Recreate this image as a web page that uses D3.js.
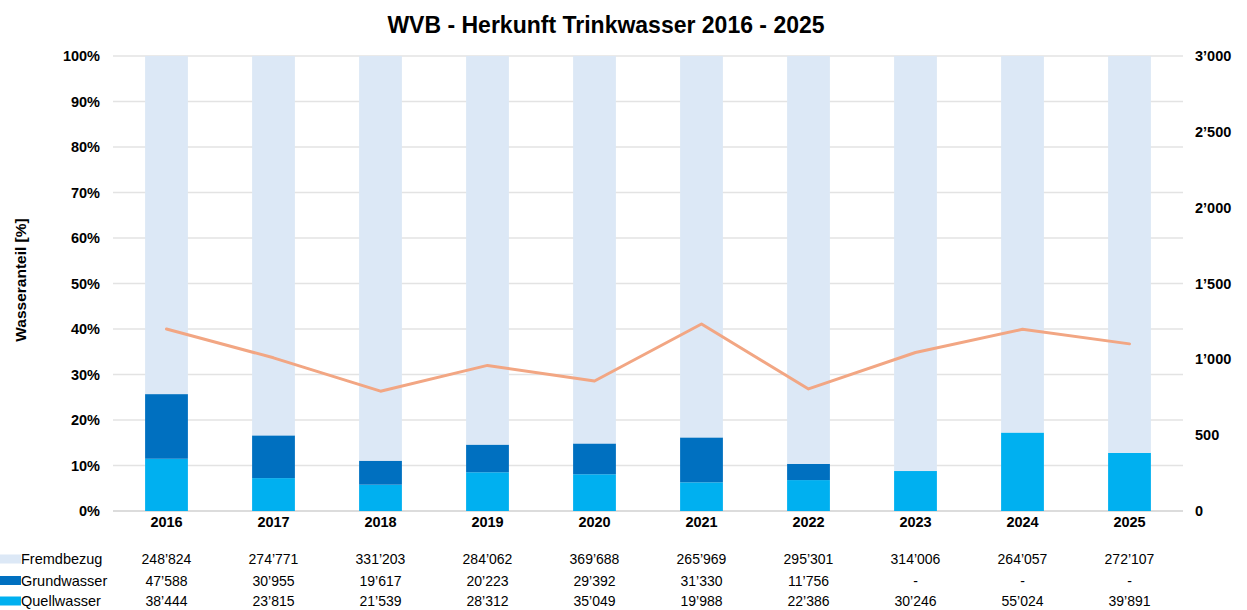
<!DOCTYPE html>
<html>
<head>
<meta charset="utf-8">
<script src="https://cdn.jsdelivr.net/npm/d3@7"></script>
<style>
  html, body { margin: 0; padding: 0; background: #fff; overflow: hidden; }
  svg { display: block; font-family: "Liberation Sans", Arial, sans-serif; }
</style>
</head>
<body>
<div id="chart-area"></div>
<script>
// data
const years = ["2016","2017","2018","2019","2020","2021","2022","2023","2024","2025"];
const fremdbezug = [248824, 274771, 331203, 284062, 369688, 265969, 295301, 314006, 264057, 272107];
const grundwasser = [47588, 30955, 19617, 20223, 29392, 31330, 11756, null, null, null];
const quellwasser = [38444, 23815, 21539, 28312, 35049, 19988, 22386, 30246, 55024, 39891];
const linie = [1200, 1010, 790, 960, 857, 1233, 805, 1045, 1198, 1102];
const leftTicks = [0, 0.1, 0.2, 0.3, 0.4, 0.5, 0.6, 0.7, 0.8, 0.9, 1];
const rightTicks = [0, 500, 1000, 1500, 2000, 2500, 3000];

const width = 1247, height = 610;
const margin = {left: 113, top: 56, right: 64, bottom: 99};
const innerWidth = width - margin.left - margin.right;
const innerHeight = height - margin.top - margin.bottom;

const colors = {
  Fremdbezug: "#DCE8F6",
  Grundwasser: "#0070C0",
  Quellwasser: "#00B0F0"
};

const fmt = v => (v == null ? "-" : d3.format(",")(v).replace(/,/g, "\u2019"));

const svg = d3.select("#chart-area")
  .append("svg")
  .attr("width", width)
  .attr("height", height);

const g = svg.append("g")
  .attr("transform", `translate(${margin.left},${margin.top})`);

// scales
const x = d3.scaleBand()
  .domain(years)
  .range([0, innerWidth])
  .paddingInner(0.6)
  .paddingOuter(0.3);

const y = d3.scaleLinear().domain([0, 1]).range([innerHeight, 0]);
const y2 = d3.scaleLinear().domain([0, 3000]).range([innerHeight, 0]);

// gridlines
g.append("g")
  .selectAll("line")
  .data(leftTicks)
  .join("line")
  .attr("x1", 0)
  .attr("x2", innerWidth)
  .attr("y1", d => y(d))
  .attr("y2", d => y(d))
  .attr("stroke", d => d === 0 ? "#d0d0d0" : "#e3e3e3")
  .attr("stroke-width", 1.3);

// stacked 100% bars
const rows = years.map((yr, i) => ({
  year: yr,
  Quellwasser: quellwasser[i],
  Grundwasser: grundwasser[i] || 0,
  Fremdbezug: fremdbezug[i]
}));
const keys = ["Quellwasser", "Grundwasser", "Fremdbezug"];
const stack = d3.stack().keys(keys).offset(d3.stackOffsetExpand);
const series = stack(rows);

g.append("g")
  .selectAll("g")
  .data(series)
  .join("g")
  .attr("fill", d => colors[d.key])
  .selectAll("rect")
  .data(d => d)
  .join("rect")
  .attr("x", d => x(d.data.year))
  .attr("width", x.bandwidth())
  .attr("y", d => y(d[1]))
  .attr("height", d => y(d[0]) - y(d[1]));

// line on right axis
const line = d3.line()
  .x((d, i) => x(years[i]) + x.bandwidth() / 2)
  .y(d => y2(d));

g.append("path")
  .datum(linie)
  .attr("d", line)
  .attr("fill", "none")
  .attr("stroke", "#F2A683")
  .attr("stroke-width", 3)
  .attr("stroke-linejoin", "round")
  .attr("stroke-linecap", "round");

const styleTicks = sel => sel.selectAll("text")
  .attr("font-size", 14.5)
  .attr("font-weight", "bold")
  .attr("fill", "#000")
  .attr("font-family", "Liberation Sans, Arial, sans-serif");

// left axis
const yAxis = d3.axisLeft(y)
  .tickValues(leftTicks)
  .tickFormat(d3.format(".0%"))
  .tickSize(0)
  .tickPadding(13);
g.append("g").call(yAxis)
  .call(a => a.select(".domain").remove())
  .call(styleTicks);

// right axis
const yAxis2 = d3.axisRight(y2)
  .tickValues(rightTicks)
  .tickFormat(fmt)
  .tickSize(0)
  .tickPadding(12);
g.append("g")
  .attr("transform", `translate(${innerWidth},0)`)
  .call(yAxis2)
  .call(a => a.select(".domain").remove())
  .call(styleTicks);

// x axis labels
const xAxis = d3.axisBottom(x).tickSize(0).tickPadding(6);
g.append("g")
  .attr("transform", `translate(0,${innerHeight})`)
  .call(xAxis)
  .call(a => a.select(".domain").remove())
  .call(styleTicks);

// titles
svg.append("text")
  .attr("x", 606)
  .attr("y", 33)
  .attr("text-anchor", "middle")
  .attr("font-size", 23)
  .attr("font-weight", "bold")
  .text("WVB - Herkunft Trinkwasser 2016 - 2025");

svg.append("text")
  .attr("transform", "translate(26,280) rotate(-90)")
  .attr("text-anchor", "middle")
  .attr("font-size", 15.5)
  .attr("font-weight", "bold")
  .text("Wasseranteil [%]");

// data table below
const table = [
  {name: "Fremdbezug", values: fremdbezug},
  {name: "Grundwasser", values: grundwasser},
  {name: "Quellwasser", values: quellwasser}
];
const rowY = [559, 580.5, 601];

const tRows = svg.append("g")
  .selectAll("g")
  .data(table)
  .join("g")
  .attr("transform", (d, i) => `translate(0,${rowY[i]})`);

tRows.append("rect")
  .attr("x", 0)
  .attr("y", -4.5)
  .attr("width", 21)
  .attr("height", 9)
  .attr("fill", d => colors[d.name]);

tRows.append("text")
  .attr("x", 21)
  .attr("y", 5)
  .attr("font-size", 14.5)
  .text(d => d.name);

tRows.selectAll("text.val")
  .data(d => d.values)
  .join("text")
  .attr("class", "val")
  .attr("x", (d, i) => margin.left + x(years[i]) + x.bandwidth() / 2)
  .attr("y", 5)
  .attr("text-anchor", "middle")
  .attr("font-size", 14)
  .text(d => fmt(d));
</script>
</body>
</html>
